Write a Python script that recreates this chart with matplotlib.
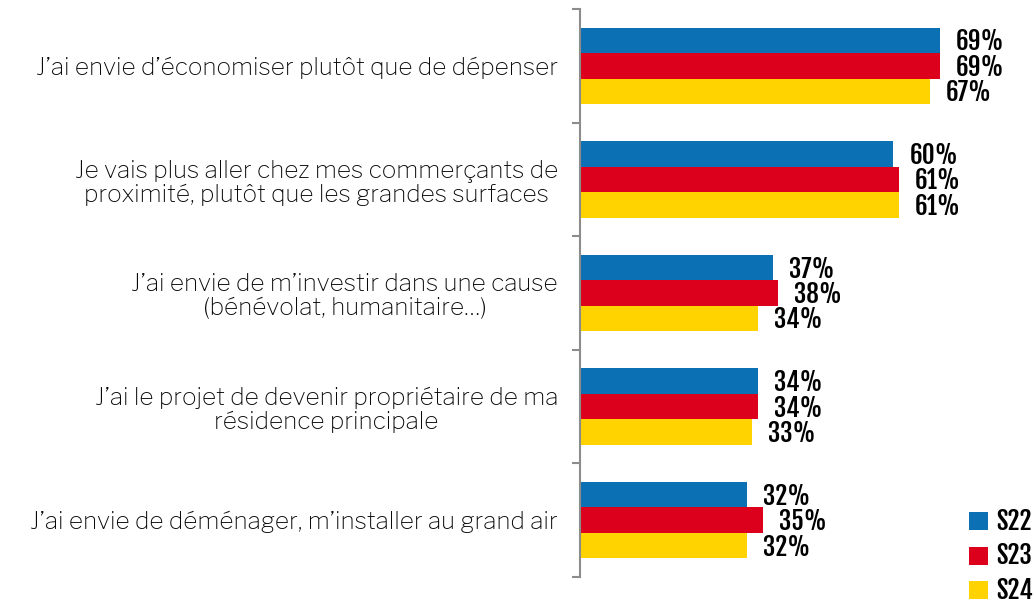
import numpy as np
import matplotlib
matplotlib.use('Agg')
import matplotlib.pyplot as plt
from matplotlib import font_manager
from matplotlib.ticker import FixedLocator


categories = [
	"J\u2019ai envie d\u2019économiser plutôt que de dépenser",
	"Je vais plus aller chez mes commerçants de\nproximité, plutôt que les grandes surfaces",
	"J\u2019ai envie de m\u2019investir dans une cause\n(bénévolat, humanitaire\u2026)",
	"J\u2019ai le projet de devenir propriétaire de ma\nrésidence principale",
	"J\u2019ai envie de déménager, m\u2019installer au grand air",
]
series_names = ["S22", "S23", "S24"]
s22 = [69, 60, 37, 34, 32]
s23 = [69, 61, 38, 34, 35]
s24 = [67, 61, 34, 33, 32]
colors = ["#0c70b5", "#dc001d", "#ffd300"]


def first_installed(candidates):
	have = set(f.name for f in font_manager.fontManager.ttflist)
	for c in candidates:
		if c in have:
			return c
	return 'DejaVu Sans'

label_font = [first_installed(['Libre Franklin', 'Liberation Sans']), 'DejaVu Sans']
num_font = [first_installed(['Fjalla One', 'Oswald', 'Bebas Neue', 'Roboto Condensed',
	'Archivo Narrow', 'PT Sans Narrow', 'Liberation Sans Narrow']), 'DejaVu Sans']


fig = plt.figure(figsize=(10.36, 6.08), dpi=100)
ax = fig.add_axes([0.560, 0.051, 0.403, 0.934])

y = np.arange(len(categories))
bar_h = 0.224
for k, (vals, name, col) in enumerate(zip([s22, s23, s24], series_names, colors)):
	pos = y + (k - 1) * bar_h
	bars = ax.barh(pos, vals, height=bar_h, color=col, label=name)
	for b, v in zip(bars, vals):
		ax.annotate(f"{v}%", (b.get_width(), b.get_y() + b.get_height() / 2),
			xytext=(11.5, -1), textcoords='offset points', va='center', ha='left',
			fontsize=18, fontweight='bold', family=num_font, color='black')

ax.set_xlim(0, 80)
ax.set_ylim(len(categories) - 0.5, -0.5)

# boundary ticks (major) and centered labels (minor)
ax.yaxis.set_major_locator(FixedLocator(np.arange(-0.5, len(categories), 1.0)))
ax.yaxis.set_major_formatter(plt.NullFormatter())
ax.yaxis.set_minor_locator(FixedLocator(y))
ax.set_yticklabels(categories, minor=True, fontsize=17.5, family=label_font, fontweight=500,
	multialignment='center', color='#0a0a0a', linespacing=1.1)
ax.tick_params(axis='y', which='major', length=5.5, width=1.5, color='#8c8c8c', direction='out')
ax.tick_params(axis='y', which='minor', length=0, pad=16)

ax.set_xticks([])
for s in ['top', 'right', 'bottom']:
	ax.spines[s].set_visible(False)
ax.spines['left'].set_color('#8c8c8c')
ax.spines['left'].set_linewidth(1.5)

leg = fig.legend(loc='lower right', bbox_to_anchor=(1.012, -0.018), frameon=False,
	handlelength=0.75, handleheight=0.75, handletextpad=0.35, labelspacing=0.3,
	prop={'family': num_font, 'weight': 'bold', 'size': 18}, borderaxespad=0.2)

fig.savefig('out.png', dpi=100)
